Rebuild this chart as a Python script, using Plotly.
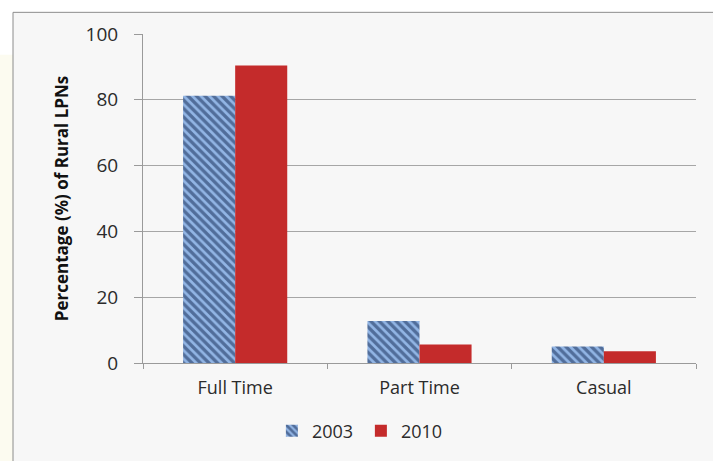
import plotly.graph_objects as go

categories = ["Full Time", "Part Time", "Casual"]
series_names = ["2003", "2010"]
values_2003 = [81.2, 12.8, 5.0]
values_2010 = [90.4, 5.6, 3.6]
y_ticks = [0, 20, 40, 60, 80, 100]

FONT = "Open Sans"

fig = go.Figure()
fig.add_trace(go.Bar(
    x=categories, y=values_2003, name=series_names[0],
    marker=dict(color="#92b5e5", line=dict(width=0),
                pattern=dict(shape="\\", fgcolor="#0f2650", bgcolor="#92b5e5",
                             size=6, solidity=0.55, fillmode="overlay")),
))
fig.add_trace(go.Bar(
    x=categories, y=values_2010, name=series_names[1],
    marker=dict(color="#c42b2b", line=dict(width=0)),
))

# chart box (coordinates in paper units relative to plot area)
L, R, T, B = 143, 17, 34, 93
W, H = 713, 461
pw, ph = W - L - R, H - T - B
def px(x):
    return (x - L) / pw
def py(y):
    return (H - B - y) / ph

shapes = [
    dict(type="rect", xref="paper", yref="paper", x0=px(0), x1=px(13), y0=py(470), y1=py(55),
         fillcolor="#fcfbf0", line=dict(width=0), layer="below"),
    dict(type="rect", xref="paper", yref="paper", x0=px(13), x1=px(730), y0=py(470), y1=py(12),
         fillcolor="#f7f7f7", line=dict(color="#8c8c8c", width=1), layer="below"),
]

fig.update_layout(
    width=W, height=H,
    margin=dict(l=L, r=R, t=T, b=B),
    paper_bgcolor="white",
    plot_bgcolor="rgba(0,0,0,0)",
    barmode="group",
    bargap=0.435,
    bargroupgap=0,
    shapes=shapes,
    font=dict(family=FONT, color="#2b2b2b"),
    showlegend=True,
    legend=dict(orientation="h", x=0.394, xanchor="center", y=py(437), yanchor="middle",
                font=dict(size=18, family=FONT, color="#2b2b2b"), bgcolor="rgba(0,0,0,0)",
                itemwidth=30, entrywidth=44, tracegroupgap=0),
    xaxis=dict(
        showline=True, linecolor="#9a9a9a", linewidth=1,
        ticks="outside", tickson="boundaries", ticklen=5, tickcolor="#9a9a9a",
        tickfont=dict(size=18, family=FONT, color="#2b2b2b"),
        ticklabelstandoff=8,
        showgrid=False,
    ),
    yaxis=dict(
        range=[0, 100], tickvals=y_ticks,
        showline=True, linecolor="#9a9a9a", linewidth=1,
        ticks="outside", ticklen=8, tickcolor="#9a9a9a",
        showgrid=True, gridcolor="#a6a6a6", gridwidth=1,
        zeroline=False,
        tickfont=dict(size=19, family=FONT, color="#2b2b2b"),
        ticklabelstandoff=12,
        title=dict(text="<b>Percentage (%) of Rural LPNs</b>",
                   font=dict(size=17, family=FONT, color="#111111"), standoff=12),
    ),
)

fig.write_html("out.html")
